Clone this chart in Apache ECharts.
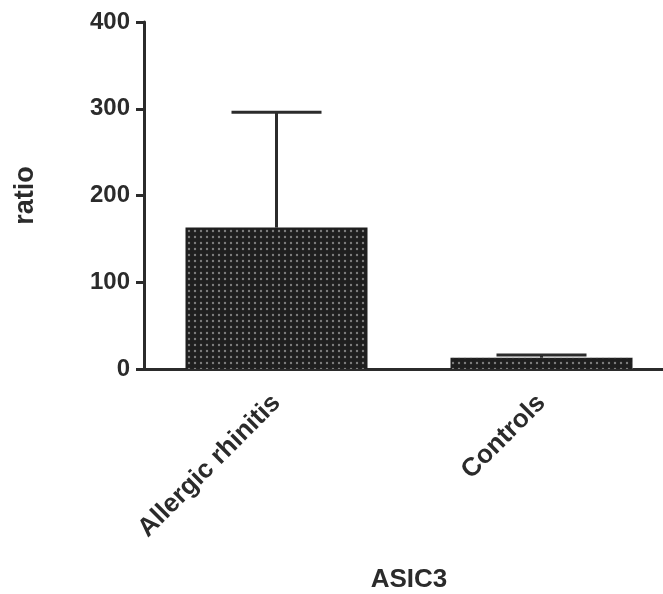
<!DOCTYPE html>
<html>
<head>
<meta charset="utf-8">
<script src="https://cdn.jsdelivr.net/npm/echarts@6/dist/echarts.min.js"></script>
<style>html,body{margin:0;padding:0;background:#fff;}#c{width:663px;height:594px;}</style>
</head>
<body>
<div id="c"></div>
<script>
const categories = ['Allergic rhinitis', 'Controls'];
const means = [163, 13];
const upperErrors = [296, 16];
const yTicks = [0, 100, 200, 300, 400];

const chart = echarts.init(document.getElementById('c'));
const ink = '#2b2b2b';
const font = 'Liberation Sans, Arial, sans-serif';
chart.setOption({
  backgroundColor: '#ffffff',
  animation: false,
  grid: { left: 144, right: -11, top: 22, bottom: 225, containLabel: false, outerBoundsMode: 'none' },
  xAxis: {
    type: 'category',
    data: categories,
    name: 'ASIC3',
    nameLocation: 'middle',
    nameGap: 198,
    nameTextStyle: { fontFamily: font, fontWeight: 'bold', fontSize: 26, color: ink },
    axisLine: { lineStyle: { color: ink, width: 3 } },
    axisTick: { alignWithLabel: true, length: 10, lineStyle: { color: ink, width: 3 } },
    axisLabel: { interval: 0, rotate: 45, margin: 30, fontFamily: font, fontWeight: 'bold', fontSize: 26, color: ink }
  },
  yAxis: {
    type: 'value',
    min: yTicks[0],
    max: yTicks[yTicks.length - 1],
    interval: 100,
    name: 'ratio',
    nameLocation: 'middle',
    nameRotate: 90,
    nameGap: 105,
    nameTextStyle: { fontFamily: font, fontWeight: 'bold', fontSize: 27, color: ink },
    splitLine: { show: false },
    axisLine: { show: true, lineStyle: { color: ink, width: 3 } },
    axisTick: { show: true, length: 8, lineStyle: { color: ink, width: 3 } },
    axisLabel: { margin: 14, fontFamily: font, fontWeight: 'bold', fontSize: 24, color: ink }
  },
  series: [
    {
      type: 'bar',
      data: means,
      barWidth: 182,
      itemStyle: {
        color: '#1f1f1f',
        decal: { symbol: 'circle', symbolSize: 0.4, dashArrayX: [6, 0], dashArrayY: [6, 0], color: 'rgba(150,150,150,0.8)' }
      },
      z: 2
    },
    {
      type: 'custom',
      z: 3,
      data: categories.map((c, i) => [i, means[i], upperErrors[i]]),
      renderItem: function (params, api) {
        const lo = api.coord([api.value(0), api.value(1)]);
        const hi = api.coord([api.value(0), api.value(2)]);
        const half = 45;
        const style = { stroke: ink, lineWidth: 3 };
        return {
          type: 'group',
          children: [
            { type: 'line', shape: { x1: lo[0], y1: lo[1], x2: hi[0], y2: hi[1] }, style: style },
            { type: 'line', shape: { x1: hi[0] - half, y1: hi[1], x2: hi[0] + half, y2: hi[1] }, style: style }
          ]
        };
      }
    }
  ]
});
</script>
</body>
</html>
